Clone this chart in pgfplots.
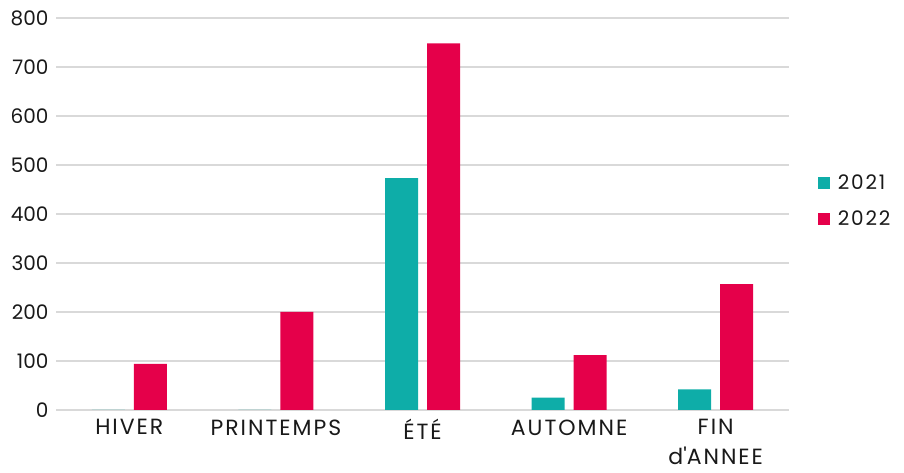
\documentclass[border=0pt]{standalone}
\usepackage{pgfplots}
\pgfplotsset{compat=1.18}
\usepackage{fontspec}
\setmainfont{Poppins}
\newfontfamily\wide{Poppins}[LetterSpace=9]
\definecolor{teal21}{RGB}{14,173,168}
\definecolor{red22}{RGB}{229,0,74}
\definecolor{gridgray}{RGB}{217,217,217}
\definecolor{txt}{RGB}{25,25,25}
\begin{document}
\begin{tikzpicture}
\useasboundingbox (0,0) rectangle (904pt,473pt);
\begin{axis}[
    at={(56pt,63pt)}, anchor=south west,
    scale only axis,
    width=733pt, height=392pt,
    ybar, bar width=33pt,
    ymin=0, ymax=800, ytick={0,100,...,800},
    xmin=-0.5, xmax=4.5,
    xtick={0,1,2,3,4},
    xticklabels={HIVER,PRINTEMPS,ÉTÉ,AUTOMNE,{FIN\\d\textquotesingle ANNEE}},
    xticklabel style={align=center, font=\wide\fontsize{22}{30}\selectfont, text=txt, yshift=-6pt},
    yticklabel style={font=\fontsize{20}{22}\selectfont, text=txt, xshift=-4pt},
    /pgf/number format/assume math mode=true,
    axis line style={draw=none},
    major tick length=0pt,
    ymajorgrids, grid style={draw=gridgray, line width=1.4pt},
    enlargelimits=false,
    clip=false,
    legend style={at={(1.035,0.533)}, anchor=west, draw=none, fill=none,
        font=\wide\fontsize{20}{22}\selectfont, text=txt, row sep=16pt, column sep=6pt},
    legend cell align=left,
    legend image code/.code={\fill[#1] (0pt,-6pt) rectangle (12pt,6pt);},
]
\addplot[fill=teal21, draw=none, bar shift=-21pt] coordinates {(0,0) (1,0) (2,473) (3,25) (4,42)};
\addlegendentry{2021}
\addplot[fill=red22, draw=none, bar shift=21pt] coordinates {(0,94) (1,200) (2,748) (3,112) (4,257)};
\addlegendentry{2022}
\end{axis}
\end{tikzpicture}
\end{document}
